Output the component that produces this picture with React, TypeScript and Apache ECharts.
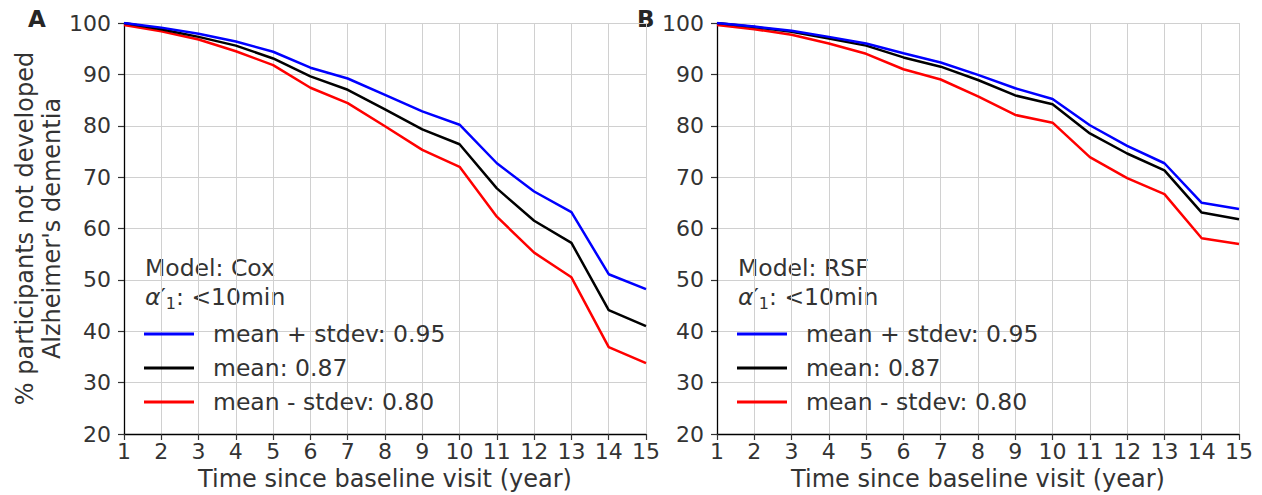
import React, { useEffect, useRef } from "react";
import * as echarts from "echarts";

const years = [1, 2, 3, 4, 5, 6, 7, 8, 9, 10, 11, 12, 13, 14, 15];

const coxPlus = [100, 99.1, 97.9, 96.4, 94.4, 91.3, 89.2, 86.0, 82.8, 80.2, 72.7, 67.2, 63.2, 51.1, 48.2];
const coxMean = [100, 98.8, 97.3, 95.6, 93.1, 89.6, 87.0, 83.2, 79.3, 76.4, 67.8, 61.5, 57.2, 44.1, 41.0];
const coxMinus = [99.6, 98.4, 96.8, 94.5, 91.8, 87.4, 84.4, 79.9, 75.3, 72.0, 62.3, 55.3, 50.5, 36.9, 33.8];

const rsfPlus = [100, 99.3, 98.5, 97.3, 96.0, 94.1, 92.3, 89.9, 87.3, 85.2, 80.1, 76.1, 72.7, 65.0, 63.8];
const rsfMean = [100, 99.2, 98.3, 97.0, 95.6, 93.3, 91.5, 88.9, 85.9, 84.2, 78.5, 74.6, 71.3, 63.1, 61.8];
const rsfMinus = [99.6, 98.8, 97.7, 96.0, 94.0, 91.0, 89.0, 85.7, 82.1, 80.6, 73.9, 69.8, 66.7, 58.1, 57.0];

const seriesNames = ["mean + stdev: 0.95", "mean: 0.87", "mean - stdev: 0.80"];
const seriesColors = ["#0000ff", "#000000", "#ff0000"];
const panels = [
  { letter: "A", model: "Cox", data: [coxPlus, coxMean, coxMinus] },
  { letter: "B", model: "RSF", data: [rsfPlus, rsfMean, rsfMinus] },
];

const FONT = "DejaVu Sans";
const TXT = "#333333";
const FS = 23.5;
const TITLE_FS = 24;
const TICK_FS = 22;

export default function App() {
  const ref = useRef<HTMLDivElement>(null);
  useEffect(() => {
    document.body.style.margin = "0";
    const chart = echarts.init(ref.current!, null, { renderer: "svg" });
    const gridLefts = [124, 717];
    const gridW = 522;
    const grids = gridLefts.map((l) => ({
      left: l,
      top: 23,
      width: gridW,
      height: 411,
      containLabel: false,
      outerBoundsMode: "none",
    }));
    const xAxes = gridLefts.map((_, i) => ({
      type: "value",
      gridIndex: i,
      min: 1,
      max: 15,
      interval: 1,
      name: "Time since baseline visit (year)",
      nameLocation: "middle",
      nameGap: 32,
      nameTextStyle: { fontFamily: FONT, fontSize: TITLE_FS, color: TXT },
      axisLine: { show: true, lineStyle: { color: "#000", width: 1.3 } },
      axisTick: { show: true, length: 6, lineStyle: { color: "#333", width: 1.2 } },
      axisLabel: { fontFamily: FONT, fontSize: TICK_FS, color: TXT, margin: 6 },
      splitLine: { show: true, lineStyle: { color: "#d0d0d0", width: 1 } },
    }));
    const yAxes = gridLefts.map((_, i) => ({
      type: "value",
      gridIndex: i,
      min: 20,
      max: 100,
      interval: 10,
      name: i === 0 ? "% participants not developed\nAlzheimer's dementia" : "",
      nameLocation: "middle",
      nameGap: 50,
      nameRotate: 90,
      nameTextStyle: { fontFamily: FONT, fontSize: TITLE_FS, color: TXT, lineHeight: 27 },
      axisLine: { show: true, lineStyle: { color: "#000", width: 1.3 } },
      axisTick: { show: true, length: 6, lineStyle: { color: "#333", width: 1.2 } },
      axisLabel: { fontFamily: FONT, fontSize: TICK_FS, color: TXT, margin: 13 },
      splitLine: { show: true, lineStyle: { color: "#d0d0d0", width: 1 } },
    }));
    const series: any[] = [];
    panels.forEach((p, pi) => {
      p.data.forEach((vals, si) => {
        series.push({
          type: "line",
          name: seriesNames[si],
          xAxisIndex: pi,
          yAxisIndex: pi,
          data: years.map((y, k) => [y, vals[k]]),
          symbol: "none",
          lineStyle: { color: seriesColors[si], width: 2.5 },
          itemStyle: { color: seriesColors[si] },
          z: 3 - si,
        });
      });
    });
    const legends = gridLefts.map((l) => ({
      orient: "vertical",
      left: l + 15,
      top: 317,
      icon: "rect",
      itemWidth: 50,
      itemHeight: 3,
      itemGap: 10,
      data: seriesNames,
      selectedMode: false,
      textStyle: { fontFamily: FONT, fontSize: FS, color: TXT, lineHeight: 23, padding: [0, 0, 0, 14] },
    }));
    const graphics: any[] = [];
    panels.forEach((p, pi) => {
      const l = gridLefts[pi];
      graphics.push({
        type: "text",
        left: pi === 0 ? 28 : 637,
        top: 7,
        style: { text: p.letter, fontFamily: FONT, fontSize: 23, fontWeight: "bold", fill: "#262626" },
      });
      graphics.push({
        type: "text",
        left: l + 21,
        top: 256,
        style: { text: "Model: " + p.model, fontFamily: FONT, fontSize: FS, fill: TXT },
      });
      graphics.push({
        type: "text",
        left: l + 21,
        top: 285,
        style: {
          text: "{a|α}′{s|1}: <10min",
          fontFamily: FONT,
          fontSize: FS,
          fill: TXT,
          rich: {
            a: { fontFamily: FONT, fontSize: FS, fontStyle: "italic", fill: TXT },
            s: { fontFamily: FONT, fontSize: 16, fill: TXT, padding: [12, 0, 0, 0] },
          },
        },
      });
    });
    chart.setOption({
      animation: false,
      backgroundColor: "#ffffff",
      grid: grids,
      xAxis: xAxes,
      yAxis: yAxes,
      legend: legends,
      series,
      graphic: graphics,
    });
    return () => chart.dispose();
  }, []);
  return <div ref={ref} style={{ width: 1262, height: 495 }} />;
}
